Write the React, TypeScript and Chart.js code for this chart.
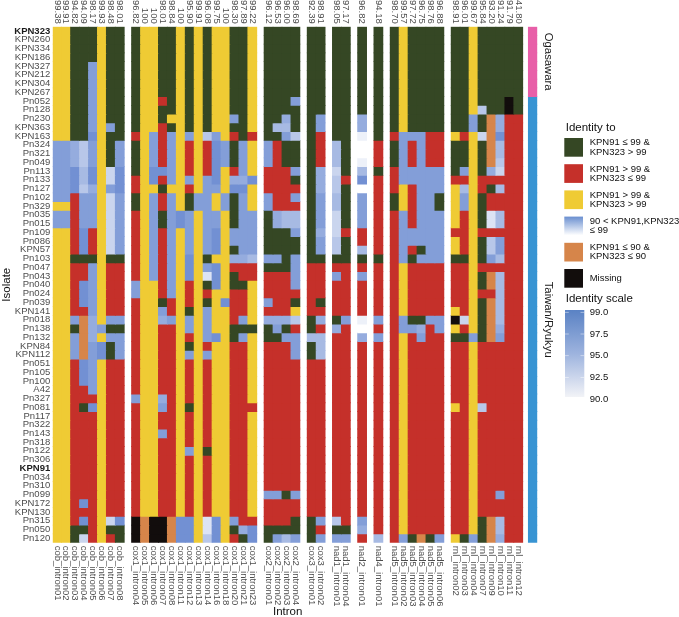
import React, { useEffect, useRef } from "react";
import { Chart, registerables } from "chart.js";

Chart.register(...registerables);

const isolates = [
  "KPN323","KPN260","KPN334","KPN186","KPN327","KPN212","KPN304","KPN267","Pn052","Pn128","Pn230","KPN363","KPN163",
  "Pn324","Pn321","Pn049","Pn113","Pn133","Pn127","Pn102","Pn329","Pn035","Pn015","Pn109","Pn086","KPN57","Pn103",
  "Pn047","Pn043","Pn040","Pn024","Pn039","KPN141","Pn018","Pn138","Pn132","KPN84","KPN112","Pn051","Pn105","Pn100",
  "A42","Pn327","Pn081","Pn117","Pn322","Pn143","Pn318","Pn122","Pn306","KPN91","Pn034","Pn310","Pn099","KPN172",
  "KPN130","Pn315","Pn050","Pn120",
];
const boldIsolates = ["KPN323", "KPN91"];
const ogasawaraIsolates = isolates.slice(0, 8);

const cobIntrons = ["cob_intron01","cob_intron02","cob_intron03","cob_intron04","cob_intron05","cob_intron06","cob_intron07","cob_intron08"];
const cox1Introns = ["cox1_intron04","cox1_intron05","cox1_intron06","cox1_intron07","cox1_intron08","cox1_intron11","cox1_intron12","cox1_intron13","cox1_intron14","cox1_intron16","cox1_intron18","cox1_intron20","cox1_intron21","cox1_intron23"];
const cox2Introns = ["cox2_intron01","cox2_intron02","cox2_intron03","cox2_intron04"];
const cox3Introns = ["cox3_intron01","cox3_intron02"];
const nad1Introns = ["nad1_intron01","nad1_intron04"];
const nad2Introns = ["nad2_intron01"];
const nad4Introns = ["nad4_intron01"];
const nad5Introns = ["nad5_intron01","nad5_intron02","nad5_intron03","nad5_intron04","nad5_intron05","nad5_intron06"];
const rnlIntrons = ["rnl_intron02","rnl_intron03","rnl_intron04","rnl_intron07","rnl_intron09","rnl_intron10","rnl_intron11","rnl_intron12"];
const geneIntrons = [cobIntrons, cox1Introns, cox2Introns, cox3Introns, nad1Introns, nad2Introns, nad4Introns, nad5Introns, rnlIntrons];

const cobIdentity = ["99.38","99.91","94.82","94.09","98.17","99.93","98.48","98.01"];
const cox1Identity = ["96.82","100","100","98.01","98.84","100","95.90","99.91","96.08","99.75","100","98.30","97.89","99.22"];
const cox2Identity = ["96.12","96.53","96.00","98.69"];
const cox3Identity = ["92.39","98.91"];
const nad1Identity = ["98.05","97.17"];
const nad2Identity = ["96.82"];
const nad4Identity = ["94.18"];
const nad5Identity = ["98.70","99.57","97.72","96.75","98.76","96.88"];
const rnlIdentity = ["98.91","96.01","99.67","95.84","93.20","91.24","91.79","41.80"];
const identityLabels = [...cobIdentity, ...cox1Identity, ...cox2Identity, ...cox3Identity, ...nad1Identity, ...nad2Identity, ...nad4Identity, ...nad5Identity, ...rnlIdentity];

// G KPN91<=99 & KPN323>99, R KPN91>99 & KPN323<=99, Y both >99, O both <=90, K missing; digit d = identity 90+d
const cells = [
  "YYGGGYGG GYYGGYGYGYYGGY GGGG GG GG G G GYGGGG GGYGGGGG",
  "YYGGGYGG GYYGGYGYGYYGGY GGGG GG GG G G GYGGGG GGYGGGGG",
  "YYGGGYGG GYYGGYGYGYYGGY GGGG GG GG G G GYGGGG GGYGGGGG",
  "YYGGGYGG GYYGGYGYGYYGGY GGGG GG GG G G GYGGGG GGYGGGGG",
  "YYGG7YGG GYYGGYGYGYYGGY GGGG GG GG G G GYGGGG GGYGGGGG",
  "YYGG7YGG GYYGGYGYGYYGGY GGGG GG GG G G GYGGGG GGYGGGGG",
  "YYGG7YGG GYYGGYGYGYYGGY GGGG GG GG G G GYGGGG GGYGGGGG",
  "YYGG7YGG GYYGGYGYGYYGGY GGGG GG GG G G GYGGGG GGYGGGGG",
  "YYGG7YGG GYYRGYGYGYYGGY GGG7 GG GG G G GYGGGG GGYGGGKG",
  "YYGG7YGG GYYGGYGYGYYGGY GGGG GG GG G G GYGGGG GGY4GGKG",
  "YYGG7YGG GYYGYYGYGYY7GY GG6G G7 GG 6 G GYGGGG GG7GO6RR",
  "YYGG7Y7G GYYRGYGYGYYGGY G55G G7 GG 6 G GYGGGG GG7GO6RR",
  "YYGG8YGG RY7R7Y7Y47YRGR GG74 GR GG 1 G R777RR YRY3O8RR",
  "77647YG7 GY7R7YRYR87G7Y 7RGG GR 5G 0 R G7R7RR GGYGO5RR",
  "77647YG7 GY7R7YRYR87G7Y 7RGG GR 5G 0 R G7R7RR GGYGO5RR",
  "77647YG7 GY7R7YRYR87G7Y 7RGG GR 5G 1 R G7R7RR GGYGO4RR",
  "77858Y38 GY887YRYR8YR7Y RRR7 G6 3G 5 G R77777 G7YG63RR",
  "77858Y38 RY8R7Y7Y78Y668 RRRG G6 4R 8 R R77777 RRYRRRRR",
  "77846Y78 RYYGYYRY77Y88Y RRRR G6 4G 0 R RYR777 Y5YRG5RR",
  "77R77Y37 GY7R7YG77Y7G7Y 7RR7 G7 5G 7 R GYR77G Y7YGRRRR",
  "YYR77Y37 GY7R7YG77Y7G7Y 7RRR G7 5G 7 R GYR77G Y7YGRRRR",
  "77R77Y37 RY7G787Y77YG77 G655 G7 3G 7 R R7R777 YRYG25RR",
  "77R77Y37 RY7G787Y77YG77 G655 G7 3G 7 R R7R777 YRYG25RR",
  "YYR8RY37 RY7R7Y7Y78Y777 GGG7 G6 3R R R R77777 RRYRRRRR",
  "YYR8RY37 RY7R7Y7Y78Y777 GGGG G7 4G R R R77777 YRYG47RR",
  "YYR8RY37 RY7R7Y7Y78YG77 GGGG G7 4G 5 R R7RG77 YRYG47RR",
  "YYGGGYGG RY7R7Y8YGYY665 77G7 GG GG G G R7G777 GGYG75RR",
  "YYRR7YRR RY7R7Y8Y78YRRR GGG7 RR RR R R RYRRRR RRYRRRRR",
  "YYRR7YRR RY7R7Y8Y28YGRR RRR7 RR 7R 7 R RYRRRR RRYGO5RR",
  "YYR87YRR 7YYR7YRYG8YGGY RRR7 RR RR R R RYRRRR RRYGO5RR",
  "YYR87YRR 7YYR7YRYRYYRRY RRRR RR RR R R RYRRRR RRYRR5RR",
  "YYR87YRR RYYGRYRYGY8RRY 7RRG RG RR R R RYRRRR RRYGO5RR",
  "YYRR7YRR RYY7RYGY7YYRRY RRRY RR RR R R RYRRRR YRYGO5RR",
  "YY7O6Y77 RYY67Y7Y7YYR7Y 6664 G6 G7 1 7 R7GG77 K3YGO5RR",
  "YYGO67GG RYYRRY7Y7YYGGG G7GR GR 6R 0 R R776R7 YRYGO6RR",
  "YY7O6Y77 RYYRRYRY78YG7Y GG77 55 RR 6 7 RYR7RR GG7GO7RR",
  "YY7O78G7 RYYRRYGYRYYRRY RRR7 G5 RR R R RYRRRR RRYRRRRR",
  "YY7O78G7 RYYRRY7Y7YYRRY RRR7 G5 RR R R RYRRRR RRYRRRRR",
  "YYR87YRR RYYRRYRYRYYRRY RRRR RR RR R R RYRRRR RRYRRRRR",
  "YYR87YRR RYYRRYRYRYYRRY RRRR RR RR R R RYRRRR RRYRRRRR",
  "YYR87YRR RYYRRYRYRYYRRY RRRR RR RR R R RYRRRR RRYRRRRR",
  "YYRR7YRR RYYRRYRYRYYRRY RRRR RR RR R R RYRRRR RRYRRRRR",
  "YYRRRYRR 7YY6RYRYRYYRRY RRRR RR RR R R RYRRRR RRYRRRRR",
  "YYRG8YRR RYY7RYGYRYYRRR RRRR RR RR R R RYRRRR YRY4RRRR",
  "YYRRRYRR RYYRRYRYRYYRRY RRRR RR RR R R RYRRRR RRYRRRRR",
  "YYRRRYRR RYYRRYRYRYYRRY RRRR RR RR R R RYRRRR RRYRRRRR",
  "YYRRRYRR RYY7RYRYRYYRRY RRRR RR RR R R RYRRRR RRYRRRRR",
  "YYRRRYRR RYYRRYRYRYYRRY RRRR RR RR R R RYRRRR RRYRRRRR",
  "YYRRRYRR RYYRRY7YGYYRRY RRRR RR RR R R RYRRRR RRYRRRRR",
  "YYRRRYRR RYYRRYRYRYYRRY RRRR RR RR R R RYRRRR RRYRRRRR",
  "YYRRRYRR RYYRRYRYRYYRRY RRRR RR RR R R RYRRRR RRYRRRRR",
  "YYRRRYRR RYYRRYRYRYYRRY RRRR RR RR R R RYRRRR RRYRRRRR",
  "YYRRRYRR RYYRRYRYRYYRRY RRRR RR RR R R RYRRRR RRYRRRRR",
  "YYRRRYRR RYYRRYRYRYYRRY 77G7 RR RR R R RYRRRR RRYRR7RR",
  "YYR8RYRR RYYRRYRYRYYRRY RRRR RR RR R R RYRRRR RRYRRRRR",
  "YYRRRYRR RYYRRYRYRYYRRY RRRR RR RR R R RYRRRR RRYRRRRR",
  "YYR8RY38 KOKKO88Y28Y7RR RRRG G7 4R 7 R RYRRRR RRYGO5RR",
  "YYGGRYGG KOKKO88Y28YG68 GGGG GR GG 6 R RYRRRR RRYGO5RR",
  "YYG3RYRG KOKKO88Y48YRG8 G757 G7 77 R 5 R7GOG7 YG7GO6RR",
];

const regionNames = ["Ogasawara", "Taiwan/Ryukyu"];
const legendEntries = [
  ["KPN91 ≤ 99 &", "KPN323 > 99"],
  ["KPN91 > 99 &", "KPN323 ≤ 99"],
  ["KPN91 > 99 &", "KPN323 > 99"],
  ["90 < KPN91,KPN323", "≤ 99"],
  ["KPN91 ≤ 90 &", "KPN323 ≤ 90"],
  ["Missing"],
];
const scaleLabels = ["99.0", "97.5", "95.0", "92.5", "90.0"];

const FONT = '"Liberation Sans", Arial, sans-serif';
const GREEN = "#354724", RED = "#C5302A", YELLOW = "#EFCB34", ORANGE = "#D6854A", BLACK = "#120D0C";
const PINK = "#E85FA8", SKY = "#3894D3";
const cellColors: Record<string, string> = { G: GREEN, R: RED, Y: YELLOW, O: ORANGE, K: BLACK };
const blueFor = (d: number) => `rgb(${Math.round(255 - 159 * d / 9)},${Math.round(255 - 125 * d / 9)},${Math.round(255 - 50 * d / 9)})`;
const colorOf = (c: string) => cellColors[c] || blueFor(Number(c));

const FACET_GAP = 0.82, STRIP_GAP = 0.63;
const colPositions: number[] = [];
let cursor = 0;
geneIntrons.forEach((g, fi) => {
  g.forEach(() => { colPositions.push(cursor + 0.5); cursor += 1; });
  if (fi < geneIntrons.length - 1) cursor += FACET_GAP;
});
const heatEnd = cursor;
const stripPos = heatEnd + STRIP_GAP + 0.5;
const xMax = stripPos + 0.5;
const allIntrons = geneIntrons.flat();

const sideText = (ctx: CanvasRenderingContext2D, text: string, x: number, y: number, angle: number, font: string, color: string) => {
  ctx.save();
  ctx.translate(x, y);
  ctx.rotate(angle);
  ctx.font = font;
  ctx.fillStyle = color;
  ctx.textAlign = "center";
  ctx.textBaseline = "middle";
  ctx.fillText(text, 0, 0);
  ctx.restore();
};

const decorPlugin = {
  id: "decor",
  afterDraw(chart: any) {
    const ctx: CanvasRenderingContext2D = chart.ctx;
    const x = chart.scales.x, y = chart.scales.y;
    // strip labels
    const stripX = chart.chartArea.right + 11;
    sideText(ctx, regionNames[0], stripX, y.getPixelForValue(ogasawaraIsolates.length / 2), Math.PI / 2, `11.3px ${FONT}`, "#1a1a1a");
    sideText(ctx, regionNames[1], stripX, y.getPixelForValue((ogasawaraIsolates.length + isolates.length) / 2), Math.PI / 2, `11.3px ${FONT}`, "#1a1a1a");
    // x title
    ctx.font = `11.5px ${FONT}`;
    ctx.fillStyle = "#111";
    ctx.textAlign = "center";
    ctx.textBaseline = "middle";
    ctx.fillText("Intron", x.getPixelForValue(heatEnd / 2), 612);
    // legend
    ctx.textAlign = "left";
    ctx.fillText("Identity to", 565.7, 128);
    ctx.fillText("Identity scale", 565.7, 299.3);
    const swatches = [GREEN, RED, YELLOW, null, ORANGE, BLACK];
    swatches.forEach((c, i) => {
      const top = 138 + i * 26.2;
      if (c) ctx.fillStyle = c;
      else {
        const g = ctx.createLinearGradient(0, top, 0, top + 18.7);
        g.addColorStop(0, "#6A8FD0");
        g.addColorStop(1, "#FFFFFF");
        ctx.fillStyle = g;
      }
      ctx.fillRect(564.3, top, 18.7, 18.7);
      ctx.font = `9.5px ${FONT}`;
      ctx.fillStyle = "#111";
      const lines = legendEntries[i];
      const mid = top + 9.3;
      lines.forEach((t, li) => ctx.fillText(t, 589.7, mid + (li - (lines.length - 1) / 2) * 9.2));
    });
    // colour bar
    const bar = ctx.createLinearGradient(0, 310, 0, 397);
    bar.addColorStop(0, "#5A82C4");
    bar.addColorStop(0.5, "#9DB3DE");
    bar.addColorStop(1, "#F2F3F7");
    ctx.fillStyle = bar;
    ctx.fillRect(565, 310, 19.3, 87);
    scaleLabels.forEach((t, i) => {
      const py = 312.3 + i * 21.7;
      ctx.fillStyle = "#111";
      ctx.fillText(t, 589.7, py);
      if (i < scaleLabels.length - 1) {
        ctx.fillStyle = "rgba(255,255,255,0.55)";
        ctx.fillRect(565, py - 0.4, 3.8, 0.8);
        ctx.fillRect(580.5, py - 0.4, 3.8, 0.8);
      }
    });
  },
};

export default function App() {
  const ref = useRef<HTMLCanvasElement>(null);
  useEffect(() => {
    const grid = cells.map((r) => r.replace(/ /g, ""));
    const datasets = isolates.map((iso, r) => ({
      label: iso,
      data: [
        ...colPositions.map((p) => ({ x: p, y: 1 })),
        { x: stripPos, y: 1 },
      ],
      backgroundColor: [
        ...colPositions.map((_, c) => colorOf(grid[r][c])),
        ogasawaraIsolates.includes(iso) ? PINK : SKY,
      ],
      borderWidth: 0,
      inflateAmount: 0.4,
      barPercentage: 1,
      categoryPercentage: 1,
    }));
    const tickFont = { family: FONT, size: 9.5 };
    const chart = new Chart(ref.current!, {
      type: "bar",
      data: { datasets } as any,
      plugins: [decorPlugin],
      options: {
        animation: false,
        responsive: false,
        devicePixelRatio: 1,
        layout: { padding: { left: 0, top: 0, bottom: 0, right: 679 - 537.3 } },
        plugins: { legend: { display: false }, tooltip: { enabled: false } },
        scales: {
          x: {
            type: "linear",
            position: "bottom",
            stacked: true,
            offset: false,
            min: 0,
            max: xMax,
            grid: { display: false, drawTicks: false, offset: false },
            border: { display: false },
            ticks: {
              autoSkip: false,
              minRotation: -90,
              maxRotation: -90,
              padding: 3,
              color: "#4d4d4d",
              font: tickFont,
              callback: (_: any, i: number) => allIntrons[i],
            },
            afterBuildTicks: (s: any) => {
              s.ticks = colPositions.map((value) => ({ value }));
              s._getXAxisLabelAlignment = () => "left";
            },
            afterFit: (s: any) => { s.height = 617 - 542.7; },
          },
          xTop: {
            type: "linear",
            position: "top",
            offset: false,
            min: 0,
            max: xMax,
            grid: { display: false, drawTicks: false },
            border: { display: false },
            ticks: {
              autoSkip: false,
              minRotation: -90,
              maxRotation: -90,
              padding: 3,
              labelOffset: -11.4,
              color: "#4d4d4d",
              font: tickFont,
              callback: (_: any, i: number) => identityLabels[i],
            },
            afterBuildTicks: (s: any) => {
              s.ticks = colPositions.map((value) => ({ value }));
              s._getXAxisLabelAlignment = () => "right";
            },
            afterFit: (s: any) => { s.height = 26.7; },
          },
          y: {
            type: "linear",
            position: "left",
            stacked: true,
            reverse: true,
            min: 0,
            max: isolates.length,
            grid: { display: false, drawTicks: false },
            border: { display: false },
            title: { display: true, text: "Isolate", color: "#111", font: { family: FONT, size: 11.5 }, padding: { top: 0, bottom: 0 } },
            ticks: {
              autoSkip: false,
              padding: 2.5,
              font: (c: any) => ({ family: FONT, size: 9.5, weight: boldIsolates.includes(isolates[c.index]) ? "bold" : "normal" }),
              color: (c: any) => (boldIsolates.includes(isolates[c.index]) ? "#1a1a1a" : "#4d4d4d"),
              callback: (_: any, i: number) => isolates[i],
            },
            afterBuildTicks: (s: any) => {
              s.ticks = isolates.map((_, i) => ({ value: i + 0.5 }));
            },
            afterFit: (s: any) => { s.width = 52.7; },
          },
        },
      } as any,
    });
    return () => chart.destroy();
  }, []);
  return (
    <div style={{ position: "absolute", left: 0, top: 0, width: 679, height: 617, background: "#fff" }}>
      <canvas ref={ref} width={679} height={617} style={{ display: "block" }} />
    </div>
  );
}
